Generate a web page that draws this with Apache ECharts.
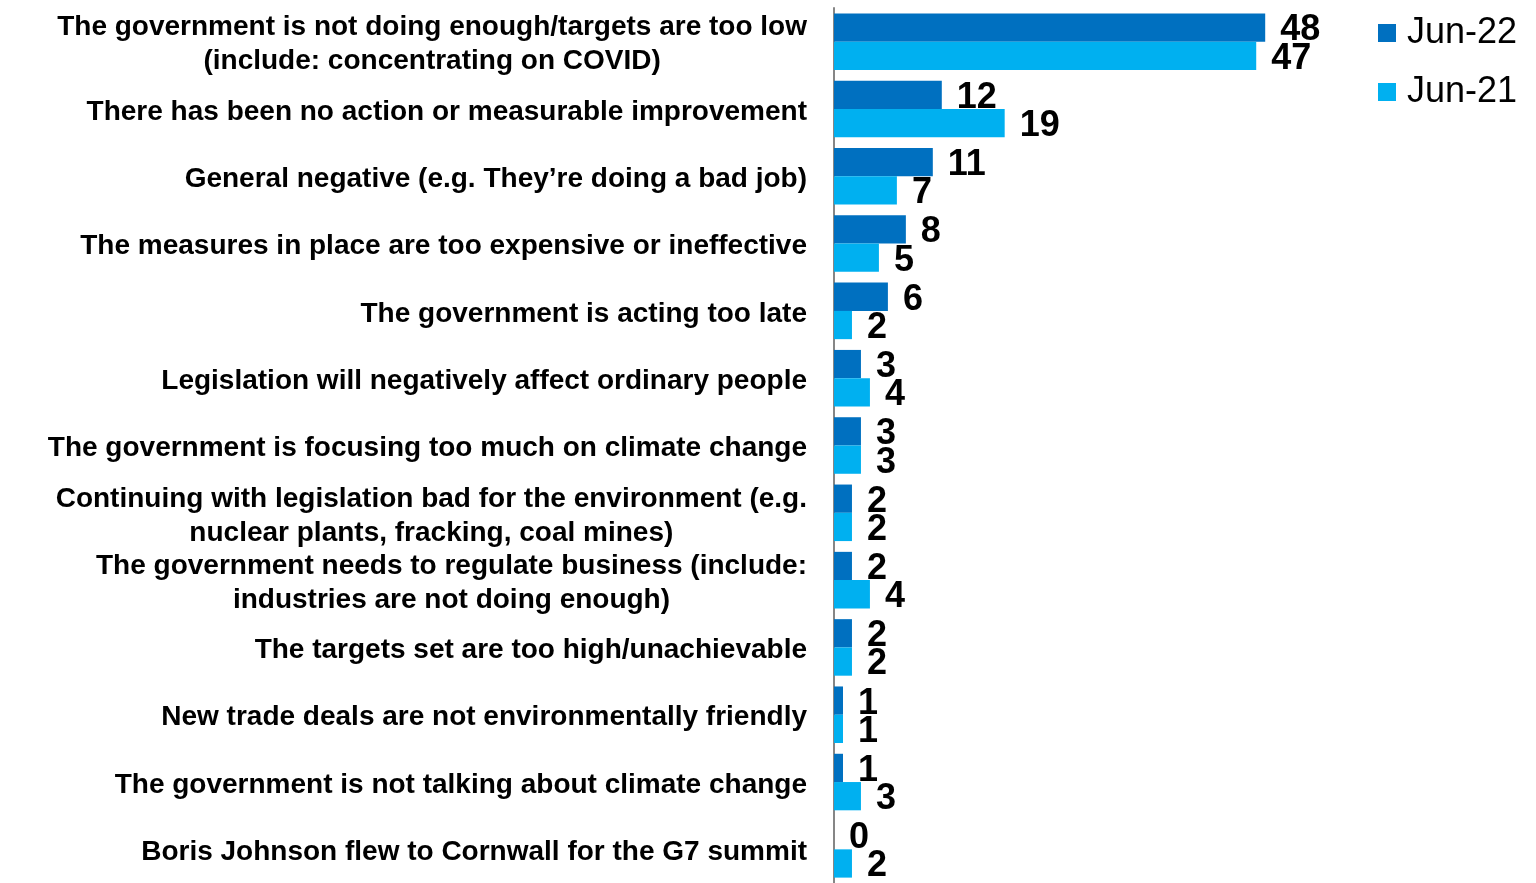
<!DOCTYPE html>
<html>
<head>
<meta charset="utf-8">
<title>Reasons government is not doing enough on climate change</title>
<script src="https://cdn.jsdelivr.net/npm/echarts@6/dist/echarts.min.js"></script>
<style>
  html, body { margin: 0; padding: 0; background: #ffffff; }
  #chart { width: 1536px; height: 883px; }
</style>
</head>
<body>
<div id="chart"></div>
<script>
// Response categories, listed top to bottom
const categories = [
  'The government is not doing enough/targets are too low\n(include: concentrating on COVID)',
  'There has been no action or measurable improvement',
  'General negative (e.g. They\u2019re doing a bad job)',
  'The measures in place are too expensive or ineffective',
  'The government is acting too late',
  'Legislation will negatively affect ordinary people',
  'The government is focusing too much on climate change',
  'Continuing with legislation bad for the environment (e.g.\nnuclear plants, fracking, coal mines)',
  'The government needs to regulate business (include:\nindustries are not doing enough)',
  'The targets set are too high/unachievable',
  'New trade deals are not environmentally friendly',
  'The government is not talking about climate change',
  'Boris Johnson flew to Cornwall for the G7 summit'
];

// Share of respondents (%) per wave
const seriesNames = ['Jun-22', 'Jun-21'];
const jun22 = [48, 12, 11, 8, 6, 3, 3, 2, 2, 2, 1, 1, 0];
const jun21 = [47, 19, 7, 5, 2, 4, 3, 2, 4, 2, 1, 3, 2];

const DARK_BLUE = '#0070C0';
const LIGHT_BLUE = '#00B0F0';
const FONT = '"Liberation Sans", Arial, Helvetica, sans-serif';

const chart = echarts.init(document.getElementById('chart'), null, { renderer: 'canvas' });

const valueLabel = {
  show: true,
  position: 'right',
  distance: 15,
  offset: [0, 3],
  color: '#000000',
  fontFamily: FONT,
  fontWeight: 'bold',
  fontSize: 36
};

chart.setOption({
  animation: false,
  backgroundColor: '#ffffff',
  grid: {
    left: 834,
    top: 8,
    width: 539,
    height: 882
  },
  legend: {
    orient: 'vertical',
    left: 1373,
    top: 10,
    itemWidth: 18,
    itemHeight: 18,
    itemGap: 23,
    icon: 'rect',
    data: seriesNames,
    textStyle: {
      color: '#000000',
      fontFamily: FONT,
      fontSize: 36,
      padding: [0, 0, 0, 6]
    }
  },
  xAxis: {
    type: 'value',
    min: 0,
    max: 60,
    show: false
  },
  yAxis: {
    type: 'category',
    inverse: true,
    data: categories,
    axisLine: { show: true, lineStyle: { color: '#868686', width: 2 } },
    axisTick: { show: false },
    splitLine: { show: false },
    axisLabel: {
      interval: 0,
      margin: 27,
      padding: [6, 0, 0, 0],
      formatter: function (value) {
        return value.split('\n').map(function (line) { return '{c|' + line + '}'; }).join('\n');
      },
      rich: {
        c: {
          align: 'center',
          color: '#000000',
          fontFamily: FONT,
          fontWeight: 'bold',
          fontSize: 28,
          lineHeight: 34
        }
      }
    }
  },
  series: [
    {
      name: seriesNames[0],
      type: 'bar',
      data: jun22,
      barGap: '0%',
      barCategoryGap: '16%',
      itemStyle: { color: DARK_BLUE },
      label: valueLabel
    },
    {
      name: seriesNames[1],
      type: 'bar',
      data: jun21,
      barGap: '0%',
      barCategoryGap: '16%',
      itemStyle: { color: LIGHT_BLUE },
      label: valueLabel
    }
  ]
});
</script>
</body>
</html>
